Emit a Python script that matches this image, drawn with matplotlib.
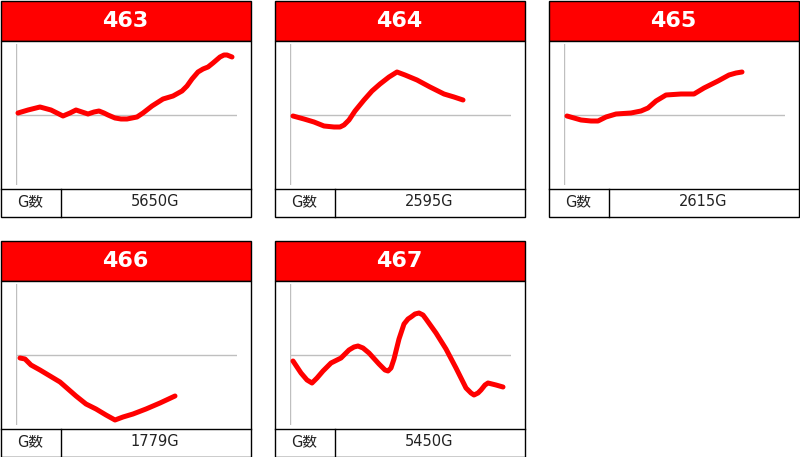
import matplotlib
matplotlib.use("Agg")
import matplotlib.pyplot as plt
from matplotlib.patches import Rectangle

# machine numbers and game counts
machines = ["463", "464", "465", "466", "467"]
games = ["5650G", "2595G", "2615G", "1779G", "5450G"]

# slump lines (x = progress, y = difference, 0 = baseline)
m463_x = [2, 12, 24, 35, 47, 54, 60, 66, 72, 78, 83, 88, 92, 99, 105, 111, 121, 127, 136, 147,
          157, 166, 171, 176, 182, 187, 192, 197, 204, 208, 211, 216]
m463_y = [2, 5, 8, 5, -1, 2, 5, 3, 1, 3, 4, 2, 0, -3, -4, -4, -2, 2, 9, 16,
          19, 24, 29, 36, 43, 46, 48, 52, 58, 60, 60, 58]

m464_x = [3, 14, 24, 34, 44, 50, 54, 59, 65, 74, 82, 90, 99, 107, 115, 127, 140, 154, 164, 173]
m464_y = [-1, -4, -7, -11, -12, -12, -10, -5, 4, 15, 24, 31, 38, 43, 40, 35, 28, 21, 18, 15]

m465_x = [3, 10, 17, 27, 34, 42, 52, 67, 77, 84, 92, 102, 117, 130, 140, 154, 165, 172, 178]
m465_y = [-1, -3, -5, -6, -6, -2, 1, 2, 4, 7, 14, 20, 21, 21, 27, 34, 40, 42, 43]

m466_x = [4, 9, 15, 24, 34, 44, 52, 60, 70, 80, 90, 99, 107, 117, 130, 144, 159]
m466_y = [-3, -4, -10, -15, -21, -27, -34, -41, -49, -54, -60, -65, -62, -59, -54, -48, -41]

m467_x = [3, 11, 17, 22, 27, 33, 41, 51, 59, 64, 68, 73, 79, 89, 95, 98, 101, 104, 109, 114, 118,
          121, 125, 129, 133, 136, 146, 156, 166, 176, 181, 184, 188, 191, 195, 198, 206, 213]
m467_y = [-6, -18, -25, -28, -23, -16, -8, -3, 5, 8, 9, 7, 2, -9, -15, -16, -13, -4, 16, 31, 36,
          38, 41, 42, 40, 36, 22, 6, -13, -33, -38, -40, -38, -35, -30, -28, -30, -32]

series = [(m463_x, m463_y), (m464_x, m464_y), (m465_x, m465_y),
          (m466_x, m466_y), (m467_x, m467_y)]

W, H = 800, 457
origins = [(0, 0), (274, 0), (548, 0), (0, 240), (274, 240)]

fig = plt.figure(figsize=(W / 100, H / 100), dpi=100)
bg = fig.add_axes([0, 0, 1, 1])
bg.set_xlim(0, W)
bg.set_ylim(H, 0)
bg.axis("off")

fonts = ["DejaVu Sans", "Noto Sans CJK JP"]

for (x0, y0), name, g, (xs, ys) in zip(origins, machines, games, series):
    # header
    bg.add_patch(Rectangle((x0 + 0.5, y0 + 0.5), 250, 40, facecolor="#ff0000",
                           edgecolor="black", linewidth=1))
    bg.text(x0 + 125, y0 + 21, name, color="white", fontsize=16, fontweight="bold",
            ha="center", va="center", family=["DejaVu Sans"])
    # body + table
    bg.add_patch(Rectangle((x0 + 0.5, y0 + 40.5), 250, 176, facecolor="white",
                           edgecolor="black", linewidth=1))
    bg.plot([x0 + 0.5, x0 + 250.5], [y0 + 188.5, y0 + 188.5], color="black", lw=1)
    bg.plot([x0 + 60.5, x0 + 60.5], [y0 + 188.5, y0 + 216.5], color="black", lw=1)
    bg.text(x0 + 30, y0 + 202, "G数", fontsize=10.5, ha="center", va="center",
            family=fonts, color="#222222")
    bg.text(x0 + 155, y0 + 202, g, fontsize=10.5, ha="center", va="center",
            family=fonts, color="#222222")

    # line plot area
    ax = fig.add_axes([(x0 + 16) / W, 1 - (y0 + 185) / H, 221 / W, 141 / H])
    ax.set_xlim(0, 221)
    ax.set_ylim(-70, 71)
    ax.patch.set_visible(False)
    for s in ax.spines.values():
        s.set_visible(False)
    ax.set_xticks([])
    ax.set_yticks([])
    ax.axvline(0, color="#bfbfbf", lw=1)
    ax.axhline(0, color="#bfbfbf", lw=1)
    ax.plot(xs, ys, color="#ff0000", lw=3.6, solid_capstyle="round",
            solid_joinstyle="round", clip_on=False)

fig.savefig("out.png", dpi=100)
